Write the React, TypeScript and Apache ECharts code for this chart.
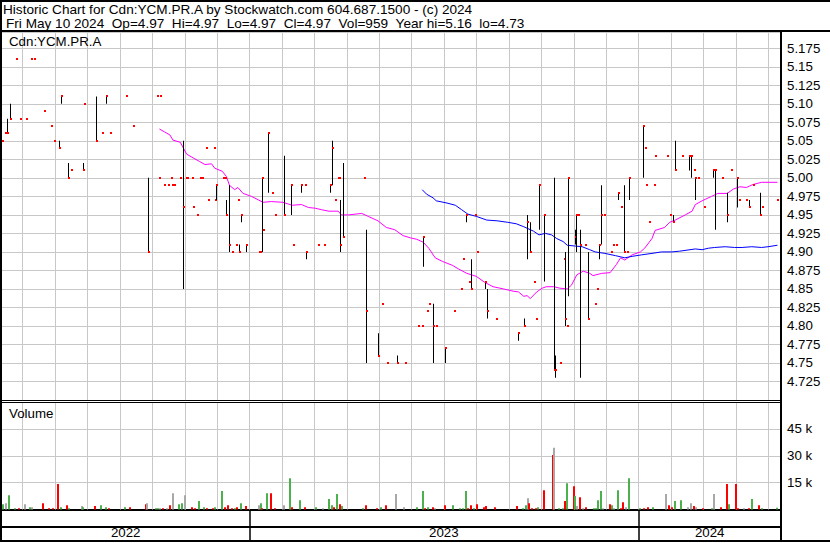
import React, { useEffect, useRef } from "react";
import * as echarts from "echarts";

const FONT = '"Liberation Sans", Arial, sans-serif';
const FS = 13.3;
const HEADER_FS = 13.6;

const TITLE = "Historic Chart for Cdn:YCM.PR.A by Stockwatch.com 604.687.1500 - (c) 2024";
const SUBTITLE = "Fri May 10 2024\u00a0\u00a0Op=4.97\u00a0\u00a0Hi=4.97\u00a0\u00a0Lo=4.97\u00a0\u00a0Cl=4.97\u00a0\u00a0Vol=959\u00a0\u00a0Year hi=5.16\u00a0\u00a0lo=4.73";
const SYMBOL = "Cdn:YCM.PR.A";
const VOLUME_LABEL = "Volume";

const YEARS = ["2022", "2023", "2024"];
const YEAR_STARTS = ["2023-01-01", "2024-01-01"];
const FIRST_MONTH = "2022-06-01";
const LAST_MONTH = "2024-05-01";

// ---- daily price marks (high / low / close) ----
const priceDates = [
  "2022-05-12","2022-05-15","2022-05-17","2022-05-20","2022-05-26","2022-05-30","2022-06-04","2022-06-09","2022-06-12","2022-06-21",
  "2022-06-27","2022-06-30","2022-07-05","2022-07-07","2022-07-14","2022-07-16","2022-07-28","2022-07-29","2022-08-09","2022-08-15",
  "2022-08-19","2022-08-23","2022-09-07","2022-09-13","2022-09-27","2022-10-06","2022-10-08","2022-10-09","2022-10-12","2022-10-16",
  "2022-10-19","2022-10-20","2022-10-22","2022-10-28","2022-10-31","2022-11-02","2022-11-03","2022-11-08","2022-11-09","2022-11-13",
  "2022-11-15","2022-11-17","2022-11-21","2022-11-23","2022-11-28","2022-11-29","2022-11-30","2022-12-07","2022-12-09","2022-12-10",
  "2022-12-13","2022-12-15","2022-12-19","2022-12-21","2022-12-22","2022-12-24","2022-12-29","2023-01-10","2023-01-11","2023-01-13",
  "2023-01-14","2023-01-19","2023-01-23","2023-01-26","2023-02-03","2023-02-09","2023-02-11","2023-02-18","2023-02-21","2023-02-22",
  "2023-03-05","2023-03-10","2023-03-16","2023-03-18","2023-03-21","2023-03-24","2023-03-25","2023-03-26","2023-03-29","2023-04-17",
  "2023-04-19","2023-04-30","2023-05-04","2023-05-09","2023-05-18","2023-05-26","2023-06-07","2023-06-11","2023-06-12","2023-06-15",
  "2023-06-17","2023-06-21","2023-06-24","2023-07-02","2023-07-11","2023-07-17","2023-07-19","2023-07-22","2023-07-25","2023-07-27",
  "2023-07-31","2023-08-02","2023-08-09","2023-08-11","2023-08-20","2023-09-10","2023-09-15","2023-09-18","2023-09-21","2023-09-24",
  "2023-09-26","2023-09-29","2023-10-04","2023-10-13","2023-10-14","2023-10-19","2023-10-23","2023-10-24","2023-10-26","2023-10-27",
  "2023-11-02","2023-11-03","2023-11-05","2023-11-07","2023-11-12","2023-11-14","2023-11-21","2023-11-23","2023-11-25","2023-11-26",
  "2023-11-29","2023-12-06","2023-12-08","2023-12-11","2023-12-13","2023-12-15","2023-12-18","2023-12-21","2023-12-23","2024-01-05",
  "2024-01-07","2024-01-08","2024-01-11","2024-01-16","2024-01-17","2024-01-28","2024-01-31","2024-02-03","2024-02-05","2024-02-11",
  "2024-02-17","2024-02-19","2024-02-22","2024-02-23","2024-02-25","2024-03-02","2024-03-10","2024-03-12","2024-03-19","2024-03-24",
  "2024-03-28","2024-04-02","2024-04-04","2024-04-11","2024-04-13","2024-04-17","2024-04-24","2024-04-25","2024-05-10",
];
const priceHigh = [
  5.05,5.06,5.08,5.10,5.16,5.08,5.08,5.16,5.16,5.09,
  5.07,5.05,5.05,5.11,5.02,5.01,5.02,5.10,5.11,5.06,
  5.11,5.06,5.11,5.07,5.00,5.11,5.00,5.11,4.99,4.99,
  5.00,4.99,4.99,5.00,5.05,5.00,5.00,5.00,4.96,4.95,
  5.00,5.00,5.04,4.97,5.04,4.97,4.99,5.00,5.00,4.97,
  4.99,4.90,4.91,4.97,4.91,4.95,4.91,4.90,4.90,5.00,
  4.93,5.06,4.98,4.95,5.03,4.99,4.91,4.99,4.99,4.90,
  4.91,4.91,4.99,5.05,4.97,5.00,5.00,4.97,5.02,5.00,
  4.93,4.79,4.83,4.75,4.76,4.75,4.80,4.80,4.92,4.82,
  4.83,4.83,4.80,4.77,4.82,4.85,4.89,4.95,4.86,4.89,
  4.95,4.90,4.86,4.85,4.81,4.79,4.81,4.95,4.94,4.86,
  4.81,4.99,4.95,5.00,4.76,4.75,4.89,4.90,4.80,5.00,
  4.93,4.95,4.95,4.93,4.91,4.90,4.83,4.85,4.91,4.99,
  4.95,4.90,4.91,4.91,4.98,4.96,4.99,4.90,5.00,5.07,
  5.04,4.99,4.94,4.99,5.03,5.03,4.95,4.95,5.05,5.03,
  5.03,5.03,5.01,5.00,5.00,4.96,5.01,5.01,5.00,4.98,
  5.01,5.00,4.97,4.97,4.97,4.99,4.98,4.96,4.97,
];
const priceLow = [
  5.05,5.06,5.06,5.08,5.16,5.08,5.08,5.16,5.16,5.09,
  5.07,5.05,5.04,5.10,5.00,5.01,5.01,5.10,5.05,5.06,
  5.10,5.06,5.11,5.07,4.90,5.11,5.00,5.11,4.99,4.99,
  5.00,4.99,4.99,5.00,4.85,5.00,5.00,5.00,4.96,4.95,
  5.00,5.00,5.04,4.97,5.04,4.97,4.97,5.00,5.00,4.95,
  4.90,4.90,4.91,4.97,4.90,4.94,4.90,4.90,4.90,4.90,
  4.93,4.98,4.98,4.95,4.95,4.95,4.91,4.98,4.99,4.89,
  4.91,4.91,4.98,4.99,4.97,5.00,5.00,4.90,4.92,5.00,
  4.75,4.76,4.83,4.75,4.75,4.75,4.80,4.80,4.88,4.82,
  4.83,4.75,4.80,4.75,4.82,4.85,4.89,4.94,4.86,4.85,
  4.95,4.90,4.85,4.81,4.81,4.78,4.80,4.89,4.90,4.86,
  4.81,4.93,4.86,4.74,4.73,4.75,4.89,4.80,4.80,4.84,
  4.91,4.90,4.95,4.73,4.91,4.81,4.83,4.85,4.89,4.91,
  4.95,4.90,4.91,4.91,4.97,4.96,4.90,4.90,4.97,5.00,
  5.04,4.99,4.94,4.99,5.03,5.03,4.95,4.94,5.01,5.03,
  5.01,5.00,5.01,4.97,5.00,4.96,5.00,4.93,5.00,4.94,
  5.01,4.96,4.97,4.97,4.96,4.99,4.95,4.96,4.97,
];
const priceClose = [
  5.05,5.06,5.06,5.08,5.16,5.08,5.08,5.16,5.16,5.09,
  5.07,5.05,5.04,5.11,5.00,5.01,5.01,5.10,5.05,5.06,
  5.11,5.06,5.11,5.07,4.90,5.11,5.00,5.11,4.99,4.99,
  5.00,4.99,4.99,5.00,4.96,5.00,5.00,5.00,4.96,4.95,
  5.00,5.00,5.04,4.97,5.04,4.97,4.99,5.00,5.00,4.95,
  4.91,4.90,4.91,4.97,4.90,4.95,4.91,4.90,4.90,5.00,
  4.93,5.06,4.98,4.95,4.95,4.99,4.91,4.99,4.99,4.90,
  4.91,4.91,4.99,5.04,4.97,5.00,5.00,4.91,4.92,5.00,
  4.82,4.76,4.83,4.75,4.75,4.75,4.80,4.80,4.92,4.82,
  4.83,4.80,4.80,4.77,4.82,4.85,4.89,4.95,4.86,4.85,
  4.95,4.90,4.86,4.82,4.81,4.79,4.80,4.94,4.90,4.86,
  4.81,4.99,4.95,4.74,4.74,4.75,4.89,4.81,4.80,5.00,
  4.92,4.95,4.95,4.91,4.91,4.81,4.83,4.85,4.91,4.95,
  4.95,4.90,4.91,4.91,4.98,4.96,4.90,4.90,5.00,5.07,
  5.04,4.99,4.94,4.99,5.03,5.03,4.95,4.94,5.01,5.03,
  5.03,5.03,5.01,5.00,5.00,4.96,5.01,5.01,5.00,4.95,
  5.01,5.00,4.97,4.97,4.96,4.99,4.95,4.96,4.97,
];

// ---- moving averages ----
const maShortDates = [
  "2022-10-08","2022-10-13","2022-10-18","2022-10-21","2022-10-28","2022-10-31","2022-11-03","2022-11-09","2022-11-15","2022-11-20",
  "2022-11-26","2022-11-29","2022-12-06","2022-12-10","2022-12-13","2022-12-18","2022-12-21","2022-12-26","2023-01-03","2023-01-10",
  "2023-01-14","2023-01-22","2023-02-02","2023-02-10","2023-02-18","2023-02-24","2023-03-02","2023-03-08","2023-03-15","2023-03-24",
  "2023-03-27","2023-04-03","2023-04-15","2023-04-21","2023-04-30","2023-05-08","2023-05-16","2023-05-24","2023-05-31","2023-06-06",
  "2023-06-12","2023-06-17","2023-06-23","2023-06-30","2023-07-09","2023-07-15","2023-07-23","2023-08-01","2023-08-09","2023-08-17",
  "2023-08-27","2023-09-05","2023-09-10","2023-09-15","2023-09-18","2023-09-21","2023-09-27","2023-10-02","2023-10-06","2023-10-13",
  "2023-10-19","2023-10-26","2023-10-30","2023-11-04","2023-11-10","2023-11-16","2023-11-19","2023-11-27","2023-12-05","2023-12-11",
  "2023-12-15","2023-12-19","2023-12-26","2024-01-03","2024-01-07","2024-01-14","2024-01-17","2024-01-26","2024-01-31","2024-02-05",
  "2024-02-14","2024-02-20","2024-02-23","2024-02-29","2024-03-09","2024-03-15","2024-03-24","2024-03-30","2024-04-05","2024-04-11",
  "2024-04-17","2024-04-25","2024-05-10",
];
const maShort = [
  5.066,5.062,5.058,5.051,5.048,5.040,5.032,5.027,5.022,5.018,
  5.019,5.013,5.009,5.002,4.990,4.984,4.987,4.979,4.975,4.970,
  4.967,4.968,4.967,4.963,4.964,4.960,4.959,4.957,4.955,4.955,
  4.950,4.950,4.952,4.948,4.942,4.933,4.930,4.922,4.919,4.917,
  4.913,4.905,4.892,4.887,4.882,4.877,4.871,4.867,4.859,4.853,
  4.850,4.847,4.846,4.840,4.841,4.837,4.846,4.851,4.853,4.853,
  4.851,4.850,4.855,4.869,4.874,4.871,4.868,4.871,4.872,4.883,
  4.892,4.889,4.896,4.900,4.905,4.918,4.929,4.933,4.940,4.943,
  4.950,4.955,4.964,4.969,4.975,4.979,4.979,4.985,4.988,4.987,
  4.991,4.994,4.994,
];
const maLongDates = [
  "2023-06-11","2023-06-15","2023-06-21","2023-06-24","2023-07-04","2023-07-12","2023-07-18","2023-07-24","2023-08-01","2023-08-11",
  "2023-08-21","2023-08-31","2023-09-08","2023-09-15","2023-09-24","2023-09-29","2023-10-05","2023-10-11","2023-10-16","2023-10-22",
  "2023-10-26","2023-11-02","2023-11-09","2023-11-16","2023-11-21","2023-11-30","2023-12-10","2023-12-19","2023-12-26","2024-01-04",
  "2024-01-14","2024-01-23","2024-02-02","2024-02-09","2024-02-23","2024-02-29","2024-03-06","2024-03-12","2024-03-22","2024-03-31",
  "2024-04-07","2024-04-16","2024-04-25","2024-05-01","2024-05-10",
];
const maLong = [
  4.984,4.978,4.973,4.969,4.966,4.963,4.957,4.951,4.948,4.943,
  4.942,4.940,4.938,4.934,4.928,4.923,4.925,4.923,4.918,4.914,
  4.909,4.908,4.907,4.903,4.900,4.898,4.895,4.892,4.894,4.896,
  4.898,4.900,4.900,4.901,4.904,4.903,4.905,4.906,4.907,4.906,
  4.906,4.907,4.906,4.907,4.909,
];

// ---- volume (u = up day, d = down day, n = unchanged) ----
const volDates = [
  "2022-05-13","2022-05-16","2022-05-19","2022-05-25","2022-05-29","2022-06-03","2022-06-08","2022-06-10","2022-06-20","2022-06-26",
  "2022-06-29","2022-07-04","2022-07-07","2022-07-13","2022-07-15","2022-07-27","2022-07-28","2022-08-08","2022-08-14","2022-08-19",
  "2022-08-22","2022-09-06","2022-09-11","2022-09-25","2022-09-26","2022-10-05","2022-10-07","2022-10-09","2022-10-11","2022-10-15",
  "2022-10-18","2022-10-21","2022-10-27","2022-10-30","2022-11-01","2022-11-08","2022-11-11","2022-11-14","2022-11-19","2022-11-22",
  "2022-11-27","2022-11-29","2022-12-06","2022-12-09","2022-12-12","2022-12-15","2022-12-18","2022-12-20","2022-12-24","2022-12-29",
  "2023-01-10","2023-01-12","2023-01-13","2023-01-18","2023-01-22","2023-01-26","2023-02-03","2023-02-08","2023-02-10","2023-02-17",
  "2023-02-21","2023-03-03","2023-03-09","2023-03-15","2023-03-18","2023-03-20","2023-03-23","2023-03-26","2023-03-28","2023-04-16",
  "2023-04-19","2023-04-29","2023-05-03","2023-05-08","2023-05-17","2023-05-25","2023-06-06","2023-06-12","2023-06-14","2023-06-16",
  "2023-06-21","2023-06-23","2023-07-02","2023-07-10","2023-07-16","2023-07-19","2023-07-22","2023-07-24","2023-07-27","2023-07-30",
  "2023-08-02","2023-08-08","2023-08-10","2023-08-19","2023-09-09","2023-09-14","2023-09-17","2023-09-19","2023-09-20","2023-09-23",
  "2023-09-26","2023-09-28","2023-10-04","2023-10-12","2023-10-13","2023-10-18","2023-10-22","2023-10-24","2023-10-26","2023-11-01",
  "2023-11-02","2023-11-04","2023-11-07","2023-11-10","2023-11-13","2023-11-20","2023-11-22","2023-11-24","2023-11-26","2023-11-28",
  "2023-12-05","2023-12-07","2023-12-09","2023-12-13","2023-12-15","2023-12-17","2023-12-20","2023-12-23","2024-01-03","2024-01-06",
  "2024-01-10","2024-01-15","2024-01-27","2024-01-30","2024-02-02","2024-02-05","2024-02-10","2024-02-16","2024-02-19","2024-02-22",
  "2024-02-24","2024-03-01","2024-03-09","2024-03-11","2024-03-18","2024-03-24","2024-03-26","2024-04-01","2024-04-03","2024-04-09",
  "2024-04-13","2024-04-16","2024-04-23","2024-04-25","2024-05-10",
];
const volumes = [
  3000,3500,8000,700,700,3000,1300,1300,3500,700,
  700,14200,1300,2400,700,1900,1300,1900,2400,1300,
  700,1300,1300,3000,3500,700,700,700,700,700,
  2400,9100,3000,3500,8000,1300,700,4700,1300,700,
  700,1300,10300,1300,2400,700,700,1300,3500,1900,
  2400,3500,700,9100,9100,700,2400,17500,1300,5200,
  1300,1300,700,5800,2400,1300,8600,3000,1900,700,
  2400,700,1300,2400,8600,1300,1300,10300,700,1300,
  1300,700,2400,2400,700,700,10300,700,2400,700,
  3000,1300,1900,1300,1900,700,2400,6300,3500,700,
  700,1300,10800,30400,34500,700,700,4700,14700,13000,
  7500,1900,6900,700,1300,700,700,5200,10300,700,
  3000,2400,700,10800,700,4100,1300,17500,700,700,
  1300,1300,8600,2400,1300,4700,5200,1300,3500,1900,
  1300,700,700,8600,1300,14200,3000,14200,700,700,
  700,5800,2400,700,959,
];
const volDir = [
  "u","n","u","u","d","n","u","n","d","d",
  "d","d","u","d","u","n","u","d","u","u",
  "d","u","d","d","n","u","u","n","d","n",
  "d","n","u","u","n","d","d","u","u","d",
  "d","u","u","d","d","d","u","d","u","d",
  "n","u","d","u","d","d","n","u","d","u",
  "d","u","n","u","u","d","u","d","u","u",
  "d","d","u","d","n","n","u","u","d","u",
  "d","n","d","u","u","u","u","d","d","u",
  "d","d","d","d","d","u","u","n","d","d",
  "d","u","d","d","n","u","u","d","u","d",
  "u","n","d","n","d","u","u","u","u","n",
  "d","u","n","u","d","d","n","u","u","d",
  "d","u","n","d","d","u","u","n","n","d",
  "n","d","u","n","d","d","u","d","d","n",
  "d","u","d","u","u",
];
const VOL_COLORS: Record<string, string> = { u: "#4cb04c", d: "#ff0000", n: "#a8a8a8" };

// axis ranges
const X_MIN = -7.63;
const X_MAX = 16.4;
const PRICE_MIN = 4.7;
const PRICE_MAX = 5.197;
const PRICE_STEP = 0.025;
const VOL_MAX = 60000;
const VOL_STEP = 15000;

function monthPos(d: string): number {
  const [y, m, dd] = d.split("-").map(Number);
  const dim = new Date(y, m, 0).getDate();
  return (y - 2023) * 12 + (m - 1) + (dd - 1) / dim;
}

function monthStarts(): number[] {
  const out: number[] = [];
  const a = monthPos(FIRST_MONTH);
  const b = monthPos(LAST_MONTH);
  for (let m = a; m <= b + 1e-9; m += 1) out.push(m);
  return out;
}

function fmtPrice(v: number): string {
  const s = (Math.round(v * 1000) / 1000).toFixed(3);
  return s.endsWith("0") ? s.slice(0, -1) : s;
}

function buildOption(): any {
  const months = monthStarts();
  const yearBounds = YEAR_STARTS.map(monthPos);
  const segs = [X_MIN, ...yearBounds, X_MAX];
  const yearMids = YEARS.map((_, i) => (segs[i] + segs[i + 1]) / 2);

  const priceData = priceDates.map((d, i) => [monthPos(d), priceHigh[i], priceLow[i], priceClose[i]]);
  const volData = volDates.map((d, i) => [monthPos(d), volumes[i]]);
  const maShortData = maShortDates.map((d, i) => [monthPos(d), maShort[i]]);
  const maLongData = maLongDates.map((d, i) => [monthPos(d), maLong[i]]);

  const gridLine = (params: any, api: any) => {
    const cs = params.coordSys;
    const p = api.coord([api.value(0), api.value(1)]);
    const x = Math.round(p[0]) + 0.5;
    return {
      type: "line",
      shape: { x1: x, y1: cs.y, x2: x, y2: cs.y + cs.height },
      style: { stroke: "#c8c8c8", lineWidth: 1 },
      silent: true,
    };
  };

  const labelStyle = { color: "#000", fontSize: FS, fontFamily: FONT };

  const text = (t: string, x: number, y: number, size: number) => ({
    type: "text",
    z: 100,
    style: { text: t, x, y, fill: "#000", font: `${size}px ${FONT}`, verticalAlign: "top", textVerticalAlign: "top" },
    silent: true,
  });
  const line = (x1: number, y1: number, x2: number, y2: number, w: number) => ({
    type: "line",
    z: 100,
    shape: { x1, y1, x2, y2 },
    style: { stroke: "#000", lineWidth: w },
    silent: true,
  });

  return {
    animation: false,
    backgroundColor: "#ffffff",
    grid: [
      { left: 2, right: 49, top: 32, height: 368 },
      { left: 2, right: 49, top: 402, height: 107.5 },
    ],
    xAxis: [
      { type: "value", gridIndex: 0, min: X_MIN, max: X_MAX, show: false },
      {
        type: "value",
        gridIndex: 1,
        min: X_MIN,
        max: X_MAX,
        axisLine: { show: true, onZero: false, lineStyle: { color: "#000", width: 2 } },
        axisTick: { show: true, customValues: yearBounds, length: 31, lineStyle: { color: "#000", width: 1.5 } },
        axisLabel: {
          show: true,
          customValues: yearMids,
          margin: 16,
          ...labelStyle,
          formatter: (v: number) => {
            let best = 0;
            yearMids.forEach((m, i) => {
              if (Math.abs(m - v) < Math.abs(yearMids[best] - v)) best = i;
            });
            return YEARS[best];
          },
        },
        splitLine: { show: false },
      },
    ],
    yAxis: [
      {
        type: "value",
        gridIndex: 0,
        position: "right",
        min: PRICE_MIN,
        max: PRICE_MAX,
        interval: PRICE_STEP,
        axisLine: { show: false },
        axisTick: { show: false },
        axisLabel: { ...labelStyle, margin: 6, showMinLabel: false, showMaxLabel: false, formatter: fmtPrice },
        splitLine: { show: true, lineStyle: { color: "#c8c8c8", width: 1 } },
      },
      {
        type: "value",
        gridIndex: 1,
        position: "right",
        min: 0,
        max: VOL_MAX,
        interval: VOL_STEP,
        axisLine: { show: false },
        axisTick: { show: false },
        axisLabel: {
          ...labelStyle,
          margin: 6,
          formatter: (v: number) => (v > 0 && v < VOL_MAX ? `${v / 1000} k` : ""),
        },
        splitLine: { show: true, lineStyle: { color: "#c8c8c8", width: 1 } },
      },
    ],
    series: [
      {
        type: "custom",
        name: "monthGridPrice",
        xAxisIndex: 0,
        yAxisIndex: 0,
        z: 1,
        silent: true,
        data: months.map((m) => [m, 4.8]),
        renderItem: gridLine,
      },
      {
        type: "custom",
        name: "monthGridVolume",
        xAxisIndex: 1,
        yAxisIndex: 1,
        z: 1,
        silent: true,
        data: months.map((m) => [m, 0]),
        renderItem: gridLine,
      },
      {
        type: "line",
        name: "MA short",
        xAxisIndex: 0,
        yAxisIndex: 0,
        z: 3,
        showSymbol: false,
        data: maShortData,
        lineStyle: { color: "#ff00ff", width: 1 },
        silent: true,
      },
      {
        type: "line",
        name: "MA long",
        xAxisIndex: 0,
        yAxisIndex: 0,
        z: 3,
        showSymbol: false,
        data: maLongData,
        lineStyle: { color: "#0000ff", width: 1 },
        silent: true,
      },
      {
        type: "custom",
        name: "Price",
        xAxisIndex: 0,
        yAxisIndex: 0,
        z: 4,
        data: priceData,
        encode: { x: 0, y: [1, 2, 3] },
        renderItem: (params: any, api: any) => {
          const x = api.value(0);
          const h = api.value(1);
          const l = api.value(2);
          const c = api.value(3);
          const top = api.coord([x, h]);
          const bot = api.coord([x, l]);
          const cp = api.coord([x, c]);
          const px = Math.round(top[0]);
          const children: any[] = [];
          if (h > l) {
            children.push({
              type: "rect",
              shape: { x: px, y: top[1], width: 1, height: bot[1] - top[1] },
              style: { fill: "#000" },
            });
          }
          children.push({
            type: "rect",
            shape: { x: px, y: Math.round(cp[1]) - 1, width: 2, height: 2 },
            style: { fill: "#ff0000" },
          });
          return { type: "group", children };
        },
      },
      {
        type: "custom",
        name: "Volume",
        xAxisIndex: 1,
        yAxisIndex: 1,
        z: 4,
        data: volData,
        renderItem: (params: any, api: any) => {
          const x = api.value(0);
          const v = api.value(1);
          const top = api.coord([x, v]);
          const base = api.coord([x, 0]);
          return {
            type: "rect",
            shape: { x: Math.round(top[0]) - 1, y: top[1], width: 2, height: base[1] - top[1] },
            style: { fill: VOL_COLORS[volDir[params.dataIndex]] },
          };
        },
      },
    ],
    graphic: [
      text(TITLE, 3, 2.5, HEADER_FS),
      text(SUBTITLE, 6, 16, HEADER_FS),
      text(SYMBOL, 9, 35, FS),
      text(VOLUME_LABEL, 9, 407, FS),
      line(0, 1, 830, 1, 2),
      line(1, 0, 1, 542, 2),
      line(0, 541, 830, 541, 2),
      line(0, 31, 830, 31, 2),
      line(781, 31, 781, 542, 2),
      line(0, 400.5, 781, 400.5, 1),
      line(0, 402.5, 781, 402.5, 1),
      line(0, 527, 781, 527, 2),
    ],
  };
}

export default function App() {
  const ref = useRef<HTMLDivElement>(null);
  useEffect(() => {
    if (!ref.current) return;
    const chart = echarts.init(ref.current, null, { renderer: "svg" });
    chart.setOption(buildOption());
    return () => chart.dispose();
  }, []);
  return (
    <div
      ref={ref}
      style={{ width: 830, height: 543, position: "absolute", left: 0, top: 0, background: "#fff" }}
    />
  );
}
